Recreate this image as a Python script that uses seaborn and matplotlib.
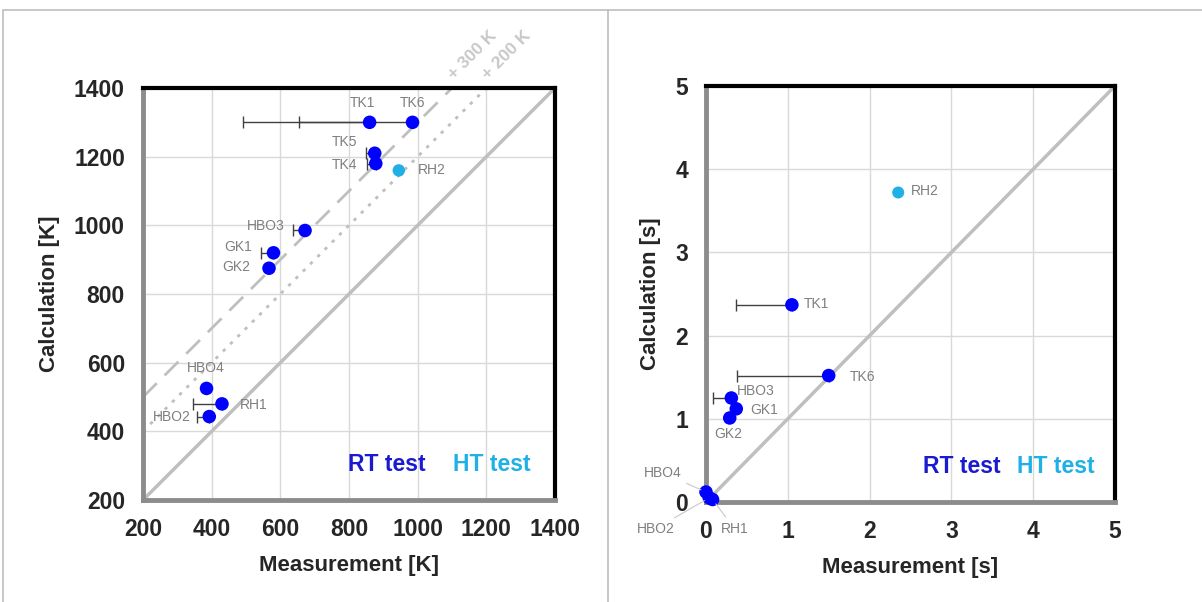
import numpy as np
import pandas as pd
import seaborn as sns
import matplotlib.pyplot as plt
from matplotlib.lines import Line2D

# temperature panel (K)
temp_names = ["TK1", "TK6", "TK5", "TK4", "RH2", "HBO3", "GK1", "GK2", "HBO4", "RH1", "HBO2"]
temp_meas = [860, 985, 875, 878, 945, 672, 580, 567, 385, 430, 393]
temp_calc = [1300, 1300, 1210, 1180, 1160, 985, 920, 875, 525, 480, 443]
temp_err_lo = [205, 495, 25, 25, 0, 35, 35, 0, 0, 85, 35]
temp_test = ["RT", "RT", "RT", "RT", "HT", "RT", "RT", "RT", "RT", "RT", "RT"]

# time panel (s)
time_names = ["RH2", "TK1", "TK6", "HBO3", "GK1", "GK2", "HBO4", "HBO2", "RH1"]
time_meas = [2.35, 1.05, 1.50, 0.31, 0.37, 0.29, 0.00, 0.04, 0.08]
time_calc = [3.72, 2.37, 1.52, 1.25, 1.12, 1.01, 0.12, 0.05, 0.03]
time_err_lo = [0, 0.68, 1.12, 0.22, 0, 0, 0, 0, 0]
time_test = ["HT", "RT", "RT", "RT", "RT", "RT", "RT", "RT", "RT"]

temp_ticks = [200, 400, 600, 800, 1000, 1200, 1400]
time_ticks = [0, 1, 2, 3, 4, 5]

# label placement (offset in pixels, horizontal alignment, leader line)
temp_lbl = {
    "TK1": (-7, 19, "center", False), "TK6": (0, 19, "center", False),
    "TK5": (-17, 11, "right", False), "TK4": (-19, -1, "right", False),
    "RH2": (19, 0, "left", False), "HBO3": (-20, 4, "right", False),
    "GK1": (-21, 6, "right", False), "GK2": (-19, 1, "right", False),
    "HBO4": (-1, 20, "center", False), "RH1": (18, -1, "left", False),
    "HBO2": (-19, 0, "right", False),
}
time_lbl = {
    "RH2": (13, 1, "left", False), "TK1": (12, 1, "left", False),
    "TK6": (21, -1, "left", False), "HBO3": (6, 7, "left", False),
    "GK1": (14, -1, "left", False), "GK2": (-1, -16, "center", False),
    "HBO4": (-24, 19, "right", True), "HBO2": (-35, -31, "right", True),
    "RH1": (8, -29, "left", True),
}

BLUE = "#0000ff"
CYAN = "#1fb0e6"
GREY = "#7f7f7f"
palette = {"RT": BLUE, "HT": CYAN}

sns.set_style("white")
plt.rcParams['font.family'] = ['Liberation Sans', 'DejaVu Sans']
plt.rcParams['font.weight'] = 'bold'

fig = plt.figure(figsize=(12.02, 6.02), dpi=100)
ax1 = fig.add_axes([143 / 1202, 1 - 500 / 602, 412 / 1202, 412 / 602])
ax2 = fig.add_axes([706 / 1202, 1 - 502 / 602, 409 / 1202, 416 / 602])

# outer frame like the original slide
fig.add_artist(Line2D([3 / 1202, 3 / 1202], [0, 1 - 10 / 602], color="#bfbfbf", lw=1.2, transform=fig.transFigure))
fig.add_artist(Line2D([3 / 1202, 1], [1 - 10 / 602, 1 - 10 / 602], color="#bfbfbf", lw=1.2, transform=fig.transFigure))
fig.add_artist(Line2D([608 / 1202, 608 / 1202], [0, 1 - 10 / 602], color="#bfbfbf", lw=1.2, transform=fig.transFigure))


def draw_panel(ax, names, meas, calc, err, test, lbl, ticks, unit, size_ht, rt_x, ht_x):
    df = pd.DataFrame({"name": names, "meas": meas, "calc": calc, "err": err, "test": test})
    lo, hi = ticks[0], ticks[-1]
    ax.set_xlim(lo, hi)
    ax.set_ylim(lo, hi)
    ax.plot([lo, hi], [lo, hi], color="#bfbfbf", lw=2.5, zorder=1)
    e = df[df["err"] > 0]
    ax.errorbar(e["meas"], e["calc"], xerr=[e["err"], np.zeros(len(e))], fmt="none",
                ecolor="#404040", elinewidth=1, capsize=4, capthick=1, zorder=2)
    sns.scatterplot(data=df, x="meas", y="calc", hue="test", palette=palette, size="test",
                    sizes={"RT": 95, "HT": size_ht}, edgecolor="none", legend=False,
                    ax=ax, zorder=3, clip_on=False)
    for _, r in df.iterrows():
        dx, dy, ha, lead = lbl[r["name"]]
        ap = dict(arrowstyle="-", color="#c8c8c8", lw=0.8, shrinkA=1, shrinkB=4) if lead else None
        ax.annotate(r["name"], (r["meas"], r["calc"]), xytext=(dx, dy), textcoords="offset pixels",
                    ha=ha, va="center", fontsize=10, fontweight="normal", color=GREY,
                    arrowprops=ap, annotation_clip=False)
    ax.set_xticks(ticks)
    ax.set_yticks(ticks)
    ax.grid(True, color="#d9d9d9", lw=1)
    ax.set_axisbelow(True)
    ax.tick_params(length=0, pad=13, labelsize=16.5)
    ax.set_xlabel(f"Measurement [{unit}]", fontsize=16, fontweight="bold", labelpad=10)
    ax.set_ylabel(f"Calculation [{unit}]", fontsize=16, fontweight="bold", labelpad=10)
    for s in ["top", "right"]:
        ax.spines[s].set_color("black")
        ax.spines[s].set_linewidth(3)
    for s in ["left", "bottom"]:
        ax.spines[s].set_color("#8c8c8c")
        ax.spines[s].set_linewidth(3.5)
    ax.text(rt_x, 0.085, "RT test", transform=ax.transAxes, color="#1a1ad0", fontsize=16.5,
            fontweight="bold", ha="left", va="center")
    ax.text(ht_x, 0.085, "HT test", transform=ax.transAxes, color=CYAN, fontsize=16.5,
            fontweight="bold", ha="left", va="center")


draw_panel(ax1, temp_names, temp_meas, temp_calc, temp_err_lo, temp_test, temp_lbl,
           temp_ticks, "K", 80, 0.497, 0.752)
# offset reference lines for the temperature panel
for off, ls in [(300, (0, (7, 4))), (200, (0, (1.2, 2.5)))]:
    ax1.plot([200, 1400 - off], [200 + off, 1400], color="#bfbfbf", lw=2, ls=ls, zorder=1)
    ax1.text(1400 - off + 12, 1416, f"+ {off} K", rotation=45, rotation_mode="anchor",
             ha="left", va="bottom", fontsize=12.5, fontweight="bold", color="#c8c8c8", clip_on=False)

draw_panel(ax2, time_names, time_meas, time_calc, time_err_lo, time_test, time_lbl,
           time_ticks, "s", 75, 0.53, 0.76)

fig.savefig("out.png", dpi=100)
